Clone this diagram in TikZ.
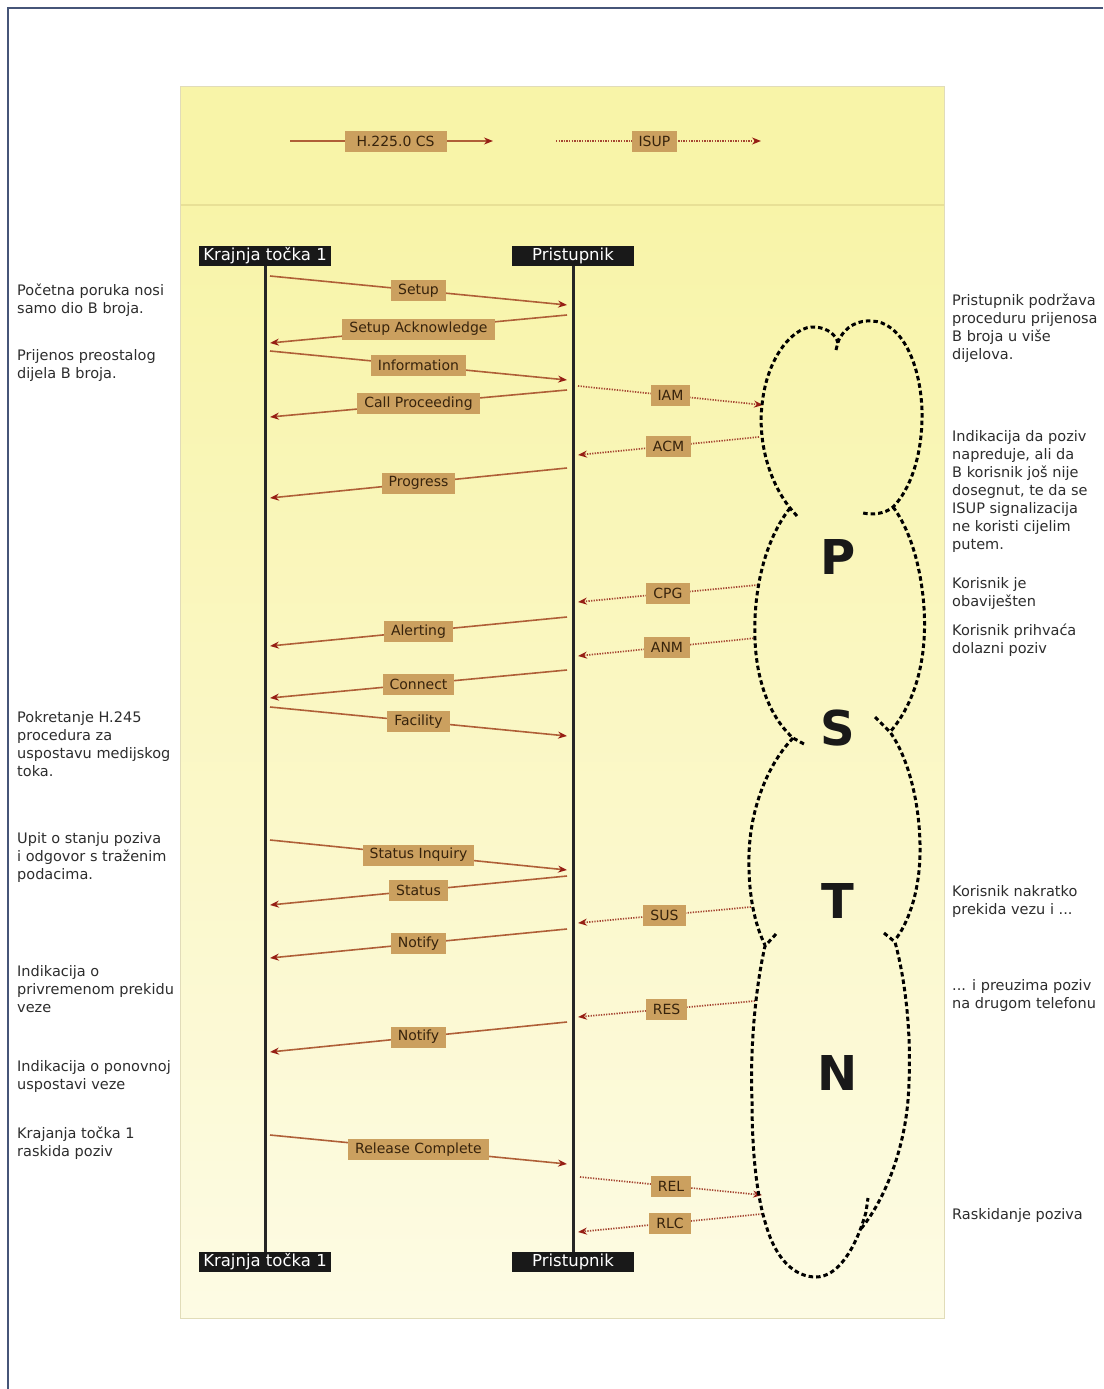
\documentclass[tikz,border=0pt]{standalone}
\usepackage{fontspec}
\setmainfont{DejaVu Sans}
\usetikzlibrary{arrows.meta}
\definecolor{panelTop}{RGB}{248,244,168}
\definecolor{panelBot}{RGB}{253,251,228}
\definecolor{sepcol}{RGB}{232,224,150}
\definecolor{panelEdge}{RGB}{225,220,185}
\definecolor{lblfill}{RGB}{203,160,95}
\definecolor{lbltext}{RGB}{55,35,12}
\definecolor{msgline}{RGB}{175,95,55}
\definecolor{tipred}{RGB}{150,30,20}
\definecolor{isupline}{RGB}{165,70,50}
\definecolor{notegray}{RGB}{45,45,45}
\definecolor{framecol}{RGB}{70,85,120}
\begin{document}
\begin{tikzpicture}[x=1pt,y=-1pt,
 note/.style={anchor=north west, align=left, inner sep=0pt, text=notegray, font=\fontsize{14.5}{18}\selectfont},
 lbl/.style={fill=lblfill, text=lbltext, inner xsep=7pt, inner ysep=0pt, minimum height=21pt, font=\fontsize{14}{16}\selectfont},
 head/.style={fill=black!90, text=white, inner xsep=3pt, inner ysep=0pt, minimum height=20pt, font=\fontsize{16.5}{18}\selectfont},
 h225/.style={draw=msgline, line width=1.6pt, -{Stealth[length=9pt,width=7pt,color=tipred]}},
 isup/.style={draw=isupline, line width=1.7pt, dash pattern=on 1.3pt off 1.3pt, -{Stealth[length=9pt,width=7pt,color=tipred]}},
 lifeline/.style={draw=black!85, line width=3pt},
 cloudline/.style={draw=black, line width=3pt, dash pattern=on 4.5pt off 3pt},
 bigletter/.style={font=\bfseries\fontsize{48}{50}\selectfont, text=black!90, inner sep=0pt}
]
\useasboundingbox (0,0) rectangle (1103,1389);
\fill[white] (0,0) rectangle (1103,1389);
\draw[framecol, line width=1.5pt] (8,1389) -- (8,8) -- (1103,8);

% panel
\shade[top color=panelTop, bottom color=panelBot] (180,205) rectangle (944,1318);
\fill[panelTop] (180,86) rectangle (944,205);
\draw[sepcol, line width=2pt] (180,205) -- (944,205);
\draw[panelEdge, line width=1pt] (180,86) rectangle (944,1318);

% legend
\coordinate (lg1a) at (290,141); \coordinate (lg1b) at (493,141);
\draw[h225] (lg1a) -- node[lbl, pos=0.52, minimum width=102pt] (lgl1) {H.225.0 CS} (lg1b);
\coordinate (lg2a) at (556,141); \coordinate (lg2b) at (761,141);
\draw[isup] (lg2a) -- node[lbl, pos=0.48] (lgl2) {ISUP} (lg2b);

% lifelines
\node[head, minimum width=132pt] (k1top) at (265,256) {Krajnja točka 1};
\node[head, minimum width=122pt] (ptop) at (573,256) {Pristupnik};
\node[head, minimum width=132pt] (k1bot) at (265,1262) {Krajnja točka 1};
\node[head, minimum width=122pt] (pbot) at (573,1262) {Pristupnik};
\draw[lifeline] (k1top) -- (k1bot);
\draw[lifeline] (ptop) -- (pbot);

% H.225 messages
\coordinate (m1a) at (270,276);  \coordinate (m1b) at (567,305);
\draw[h225] (m1a) -- node[lbl] (l1) {Setup} (m1b);
\coordinate (m2a) at (567,315);  \coordinate (m2b) at (270,343);
\draw[h225] (m2a) -- node[lbl] (l2) {Setup Acknowledge} (m2b);
\coordinate (m3a) at (270,351);  \coordinate (m3b) at (567,380);
\draw[h225] (m3a) -- node[lbl] (l3) {Information} (m3b);
\coordinate (m4a) at (567,390);  \coordinate (m4b) at (270,417);
\draw[h225] (m4a) -- node[lbl] (l4) {Call Proceeding} (m4b);
\coordinate (m5a) at (567,468);  \coordinate (m5b) at (270,498);
\draw[h225] (m5a) -- node[lbl] (l5) {Progress} (m5b);
\coordinate (m6a) at (567,617);  \coordinate (m6b) at (270,646);
\draw[h225] (m6a) -- node[lbl] (l6) {Alerting} (m6b);
\coordinate (m7a) at (567,670);  \coordinate (m7b) at (270,698);
\draw[h225] (m7a) -- node[lbl] (l7) {Connect} (m7b);
\coordinate (m8a) at (270,707);  \coordinate (m8b) at (567,736);
\draw[h225] (m8a) -- node[lbl] (l8) {Facility} (m8b);
\coordinate (m9a) at (270,840);  \coordinate (m9b) at (567,870);
\draw[h225] (m9a) -- node[lbl] (l9) {Status Inquiry} (m9b);
\coordinate (m10a) at (567,876); \coordinate (m10b) at (270,905);
\draw[h225] (m10a) -- node[lbl] (l10) {Status} (m10b);
\coordinate (m11a) at (567,929); \coordinate (m11b) at (270,958);
\draw[h225] (m11a) -- node[lbl] (l11) {Notify} (m11b);
\coordinate (m12a) at (567,1022); \coordinate (m12b) at (270,1052);
\draw[h225] (m12a) -- node[lbl] (l12) {Notify} (m12b);
\coordinate (m13a) at (270,1135); \coordinate (m13b) at (567,1164);
\draw[h225] (m13a) -- node[lbl] (l13) {Release Complete} (m13b);

% ISUP messages
\coordinate (i1a) at (578,386);  \coordinate (i1b) at (763,405);
\draw[isup] (i1a) -- node[lbl] (il1) {IAM} (i1b);
\coordinate (i2a) at (759,437);  \coordinate (i2b) at (578,455);
\draw[isup] (i2a) -- node[lbl] (il2) {ACM} (i2b);
\coordinate (i3a) at (758,585);  \coordinate (i3b) at (578,602);
\draw[isup] (i3a) -- node[lbl] (il3) {CPG} (i3b);
\coordinate (i4a) at (756,638);  \coordinate (i4b) at (578,656);
\draw[isup] (i4a) -- node[lbl] (il4) {ANM} (i4b);
\coordinate (i5a) at (751,907);  \coordinate (i5b) at (578,923);
\draw[isup] (i5a) -- node[lbl] (il5) {SUS} (i5b);
\coordinate (i6a) at (755,1001); \coordinate (i6b) at (578,1017);
\draw[isup] (i6a) -- node[lbl] (il6) {RES} (i6b);
\coordinate (i7a) at (580,1177); \coordinate (i7b) at (762,1195);
\draw[isup] (i7a) -- node[lbl] (il7) {REL} (i7b);
\coordinate (i8a) at (762,1214); \coordinate (i8b) at (578,1232);
\draw[isup] (i8a) -- node[lbl] (il8) {RLC} (i8b);

% PSTN cloud
\draw[cloudline] (797,516) -- (790,508) .. controls (768,480) and (758,440) .. (762,405)
  .. controls (767,355) and (795,325) .. (815,327) .. controls (828,328) and (836,335) .. (838,343);
\draw[cloudline] (836,350) -- (838,342) .. controls (845,325) and (860,320) .. (872,321)
  .. controls (900,322) and (920,360) .. (922,410) .. controls (923,455) and (910,490) .. (893,507)
  .. controls (885,514) and (872,515) .. (863,513);
\draw[cloudline] (790,508) .. controls (765,540) and (753,590) .. (755,640)
  .. controls (757,690) and (775,722) .. (793,738) -- (804,744);
\draw[cloudline] (893,507) .. controls (918,540) and (927,600) .. (924,640)
  .. controls (921,685) and (905,715) .. (890,732);
\draw[cloudline] (793,738) .. controls (767,765) and (750,810) .. (749,855)
  .. controls (748,895) and (755,925) .. (765,945);
\draw[cloudline] (875,717) -- (890,732) .. controls (910,760) and (921,810) .. (920,855)
  .. controls (919,895) and (907,925) .. (895,940);
\draw[cloudline] (776,934) -- (765,946) .. controls (755,990) and (750,1050) .. (752,1100)
  .. controls (752,1160) and (758,1200) .. (766,1225) .. controls (776,1260) and (795,1277) .. (816,1277)
  .. controls (838,1277) and (856,1248) .. (866,1212) -- (868,1198);
\draw[cloudline] (884,933) -- (895,942) .. controls (908,990) and (912,1050) .. (908,1100)
  .. controls (904,1150) and (885,1200) .. (860,1230);
\node[bigletter] (cp) at (838,557) {P};
\node[bigletter] (cs) at (838,728) {S};
\node[bigletter] (ct) at (838,901) {T};
\node[bigletter] (cn) at (838,1073) {N};

% left notes
\node[note] (nl1) at (17,284) {Početna poruka nosi\\samo dio B broja.};
\node[note] (nl2) at (17,349) {Prijenos preostalog\\dijela B broja.};
\node[note] (nl3) at (17,711) {Pokretanje H.245\\procedura za\\uspostavu medijskog\\toka.};
\node[note] (nl4) at (17,832) {Upit o stanju poziva\\i odgovor s traženim\\podacima.};
\node[note] (nl5) at (17,965) {Indikacija o\\privremenom prekidu\\veze};
\node[note] (nl6) at (17,1060) {Indikacija o ponovnoj\\uspostavi veze};
\node[note] (nl7) at (17,1127) {Krajanja točka 1\\raskida poziv};

% right notes
\node[note] (nr1) at (952,294) {Pristupnik podržava\\proceduru prijenosa\\B broja u više\\dijelova.};
\node[note] (nr2) at (952,430) {Indikacija da poziv\\napreduje, ali da\\B korisnik još nije\\dosegnut, te da se\\ISUP signalizacija\\ne koristi cijelim\\putem.};
\node[note] (nr3) at (952,577) {Korisnik je\\obaviješten};
\node[note] (nr4) at (952,624) {Korisnik prihvaća\\dolazni poziv};
\node[note] (nr5) at (952,885) {Korisnik nakratko\\prekida vezu i ...};
\node[note] (nr6) at (952,979) {... i preuzima poziv\\na drugom telefonu};
\node[note] (nr7) at (952,1208) {Raskidanje poziva};
\end{tikzpicture}
\end{document}
